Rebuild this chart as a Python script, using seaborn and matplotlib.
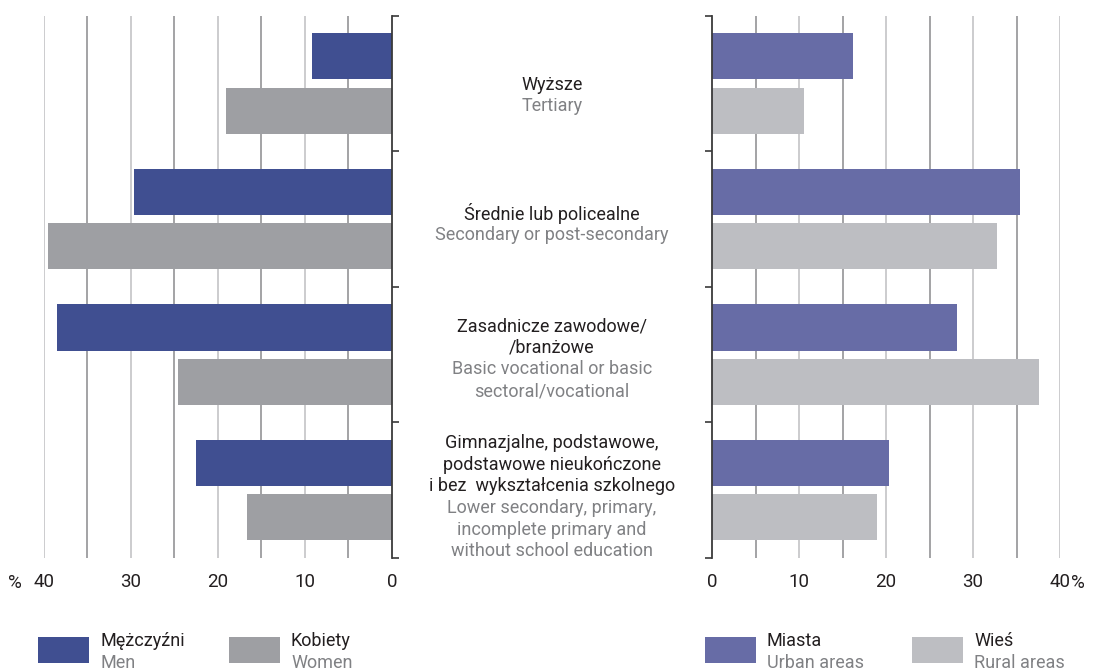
import matplotlib
matplotlib.use("Agg")
import matplotlib.pyplot as plt
import seaborn as sns
import pandas as pd
from matplotlib.patches import Rectangle

# ---------------- data ----------------
categories = ["Tertiary", "Secondary", "Basic", "Lower"]
cat_pl = [
    ["Wyższe"],
    ["Średnie lub policealne"],
    ["Zasadnicze zawodowe/", "/branżowe"],
    ["Gimnazjalne, podstawowe,", "podstawowe nieukończone", "i bez  wykształcenia szkolnego"],
]
cat_en = [
    ["Tertiary"],
    ["Secondary or post-secondary"],
    ["Basic vocational or basic", "sectoral/vocational"],
    ["Lower secondary, primary,", "incomplete primary and", "without school education"],
]
men = [9.2, 29.6, 38.5, 22.5]
women = [19.1, 39.5, 24.6, 16.6]
urban = [16.2, 35.4, 28.1, 20.3]
rural = [10.6, 32.8, 37.6, 19.0]

left_groups = [("Mężczyźni", "Men"), ("Kobiety", "Women")]
right_groups = [("Miasta", "Urban areas"), ("Wieś", "Rural areas")]
x_ticks = [0, 10, 20, 30, 40]

# ---------------- style ----------------
sns.set_theme(style="white")
plt.rcParams["font.family"] = ["Roboto", "DejaVu Sans"]
BLACK = "#231f20"
GREY_TXT = "#808184"
c_men, c_women = "#404f91", "#9e9fa3"
c_urban, c_rural = "#676ca6", "#bdbec2"
FS = 13

W, H = 1093, 671
fig = plt.figure(figsize=(W / 100, H / 100), dpi=100)

top_px, bot_px = 15.7, 558.0
axL = fig.add_axes([43.7 / W, 1 - bot_px / H, (392 - 43.7) / W, (bot_px - top_px) / H])
axR = fig.add_axes([712.3 / W, 1 - bot_px / H, (1060 - 712.3) / W, (bot_px - top_px) / H])

dfL = pd.DataFrame({
    "cat": categories * 2,
    "val": men + women,
    "grp": [left_groups[0][1]] * 4 + [left_groups[1][1]] * 4,
})
dfR = pd.DataFrame({
    "cat": categories * 2,
    "val": urban + rural,
    "grp": [right_groups[0][1]] * 4 + [right_groups[1][1]] * 4,
})

sns.barplot(data=dfL, y="cat", x="val", hue="grp", order=categories, orient="h",
            palette=[c_men, c_women], saturation=1, width=0.8, gap=0.15, legend=False,
            ax=axL, edgecolor="none", linewidth=0, zorder=3)
sns.barplot(data=dfR, y="cat", x="val", hue="grp", order=categories, orient="h",
            palette=[c_urban, c_rural], saturation=1, width=0.8, gap=0.15, legend=False,
            ax=axR, edgecolor="none", linewidth=0, zorder=3)

for ax, side in ((axL, "left"), (axR, "right")):
    ax.set_ylim(3.5, -0.5)
    if side == "left":
        ax.set_xlim(40, 0)
    else:
        ax.set_xlim(0, 40)
    ax.set_xlabel("")
    ax.set_ylabel("")
    for v in range(5, 41, 5):
        col = "#c8c8ca" if v % 10 == 0 else "#9c9c9e"
        ax.axvline(v, color=col, lw=1.3, zorder=1)
    for s in ax.spines.values():
        s.set_visible(False)
    sp = ax.spines["right" if side == "left" else "left"]
    sp.set_visible(True)
    sp.set_color("#3a3a3a")
    sp.set_linewidth(1.3)
    sp.set_zorder(5)
    ax.set_yticks([-0.5, 0.5, 1.5, 2.5, 3.5])
    ax.set_yticklabels([])
    ax.yaxis.set_ticks_position("right" if side == "left" else "left")
    ax.tick_params(axis="y", direction="out", length=5, width=1.2, color="#3a3a3a")
    ax.set_xticks(x_ticks)
    ax.set_xticklabels([str(t) for t in x_ticks])
    ax.tick_params(axis="x", length=0, pad=11, labelsize=FS + 0.5, labelcolor=BLACK)
    ax.set_facecolor("none")
    ax.grid(False)

fig.text(8 / W, 1 - 583 / H, "%", ha="left", va="center", fontsize=FS + 0.5, color=BLACK)
fig.text(1071 / W, 1 - 583 / H, "%", ha="left", va="center", fontsize=FS + 0.5, color=BLACK)

# ---------------- middle labels ----------------
band_h = (bot_px - top_px) / 4
spacing = 21.7
block_shift = [12, 5, 4, 7]
for i in range(4):
    lines = [(t, BLACK) for t in cat_pl[i]] + [(t, GREY_TXT) for t in cat_en[i]]
    n = len(lines)
    center = top_px + (i + 0.5) * band_h + block_shift[i]
    for j, (t, c) in enumerate(lines):
        y = center + (j - (n - 1) / 2) * spacing
        fig.text(552 / W, 1 - y / H, t, ha="center", va="center", fontsize=FS, color=c)

# ---------------- legend ----------------
leg_items = [
    (38, c_men, left_groups[0]),
    (229, c_women, left_groups[1]),
    (705, c_urban, right_groups[0]),
    (912, c_rural, right_groups[1]),
]
for x0, col, (pl, en) in leg_items:
    fig.patches.append(Rectangle((x0 / W, 1 - 663.3 / H), 50.5 / W, 26.6 / H,
                                 transform=fig.transFigure, facecolor=col, edgecolor="none"))
    fig.text((x0 + 62) / W, 1 - 641 / H, pl, ha="left", va="center", fontsize=FS, color=BLACK)
    fig.text((x0 + 62) / W, 1 - 663 / H, en, ha="left", va="center", fontsize=FS, color=GREY_TXT)

fig.savefig("out.png", dpi=100)
